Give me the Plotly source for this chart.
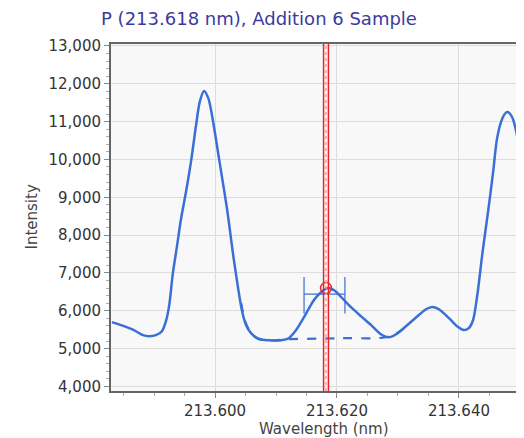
import plotly.graph_objects as go

BLUE = "#3A6FD6"
RED = "#E8262A"

# measured spectrum (nm, counts)
wavelength = [
    213.5831, 213.5846, 213.5867, 213.5882, 213.5892, 213.5903, 213.5913, 213.5920,
    213.5925, 213.5931, 213.5938, 213.5944, 213.5953, 213.5961, 213.5969, 213.5975,
    213.5982, 213.5989, 213.5995, 213.6007, 213.6020, 213.6031, 213.6044, 213.6051,
    213.6059, 213.6072, 213.6089, 213.6108, 213.6121, 213.6133, 213.6146, 213.6162,
    213.6174, 213.6185, 213.6195, 213.6207, 213.6223, 213.6239, 213.6256, 213.6272,
    213.6284, 213.6297, 213.6313, 213.6330, 213.6346, 213.6356, 213.6367, 213.6384,
    213.6397, 213.6408, 213.6416, 213.6423, 213.6430, 213.6438, 213.6448, 213.6456,
    213.6462, 213.6469, 213.6475, 213.6480, 213.6487, 213.6495, 213.6502, 213.6508,
]
intensity = [
    5700, 5620, 5490, 5355, 5330, 5355, 5460, 5750,
    6150, 7000, 7740, 8400, 9190, 9980, 10910, 11520,
    11810, 11620, 11175, 9980, 8660, 7340, 6020, 5620,
    5410, 5250, 5220, 5220, 5275, 5490, 5830, 6280,
    6490, 6600, 6545, 6360, 6095, 5860, 5620, 5380,
    5300, 5380, 5590, 5830, 6040, 6100, 6040, 5800,
    5590, 5490, 5540, 5750, 6410, 7470, 8660, 9670,
    10510, 10990, 11200, 11250, 11120, 10650, 9850, 8930,
]

# fitted background under the analyte peak
fit_wavelength = [213.6043, 213.6049, 213.6056, 213.6067, 213.6084, 213.6125,
                  213.6207, 213.6280, 213.6297, 213.6313]
fit_intensity = [6200, 5750, 5490, 5300, 5220, 5250, 5275, 5300, 5400, 5570]

peak_wl = 213.6182
peak_int = 6600
window_left = 213.6146
window_right = 213.6213
window_level = 6440
window_low, window_high = 5930, 6890

fig = go.Figure()

fig.add_trace(go.Scatter(
    x=fit_wavelength, y=fit_intensity, mode="lines",
    line=dict(color=BLUE, width=2.2, dash="dash", shape="spline"),
    hoverinfo="skip",
))
fig.add_trace(go.Scatter(
    x=wavelength, y=intensity, mode="lines",
    line=dict(color=BLUE, width=2.5, shape="spline", smoothing=0.8),
))
# integration window marker
fig.add_trace(go.Scatter(
    x=[window_left, window_left, None, window_left, window_right, None, window_right, window_right],
    y=[window_low, window_high, None, window_level, window_level, None, window_low, window_high],
    mode="lines", line=dict(color=BLUE, width=1.2), hoverinfo="skip",
))

# red peak position lines
for dx, style, col in [(-0.0004, "solid", RED), (0.0, "dot", "#F59A9C"), (0.0004, "solid", RED)]:
    fig.add_vline(x=peak_wl + dx, line=dict(color=col, width=1.5, dash=style), layer="above")

fig.add_trace(go.Scatter(
    x=[peak_wl], y=[peak_int], mode="markers",
    marker=dict(symbol="circle-open", size=11, color=RED, line=dict(width=1.5)),
    hoverinfo="skip",
))

# page body has a default margin of ~7px, so the layout is shifted up/left by that
fig.update_layout(
    width=524, height=438,
    margin=dict(l=103, r=0, t=36, b=55, autoexpand=False),
    paper_bgcolor="white",
    plot_bgcolor="#F8F8F8",
    showlegend=False,
    font=dict(family="DejaVu Sans, Verdana, sans-serif", color="#333333", size=15),
    title=dict(text="P (213.618 nm), Addition 6 Sample", xref="container", x=0.479,
               xanchor="center", yref="container", y=0.975, yanchor="middle",
               font=dict(size=18, color="#3B3B9E")),
)
fig.add_annotation(text="Wavelength (nm)", xref="paper", yref="paper",
                   x=0.507, y=-0.11, xanchor="center", yanchor="middle",
                   showarrow=False, font=dict(size=15, color="#444"))
fig.add_annotation(text="Intensity", xref="paper", yref="paper",
                   x=-0.19, y=0.5, xanchor="center", yanchor="middle", textangle=-90,
                   showarrow=False, font=dict(size=15, color="#444"))

fig.update_xaxes(
    range=[213.58295, 213.65197], automargin=False,
    tickvals=[213.600, 213.620, 213.640], tickformat=".3f",
    ticks="outside", ticklen=5, tickcolor="#888",
    minor=dict(dtick=0.005, tick0=213.600, ticks="outside", ticklen=3, tickcolor="#aaa", showgrid=False),
    showgrid=True, gridcolor="#DCDCDC", gridwidth=1,
    showline=True, linecolor="#666666", linewidth=2, mirror=True,
    zeroline=False,
)
fig.update_yaxes(
    range=[3880, 13050], automargin=False,
    dtick=1000, tick0=4000, tickformat=",d",
    ticks="outside", ticklen=5, tickcolor="#888",
    minor=dict(dtick=200, ticks="outside", ticklen=3, tickcolor="#aaa", showgrid=False),
    showgrid=True, gridcolor="#DCDCDC", gridwidth=1,
    showline=True, linecolor="#666666", linewidth=2, mirror=True,
    zeroline=False,
)

fig.write_html("out.html")
